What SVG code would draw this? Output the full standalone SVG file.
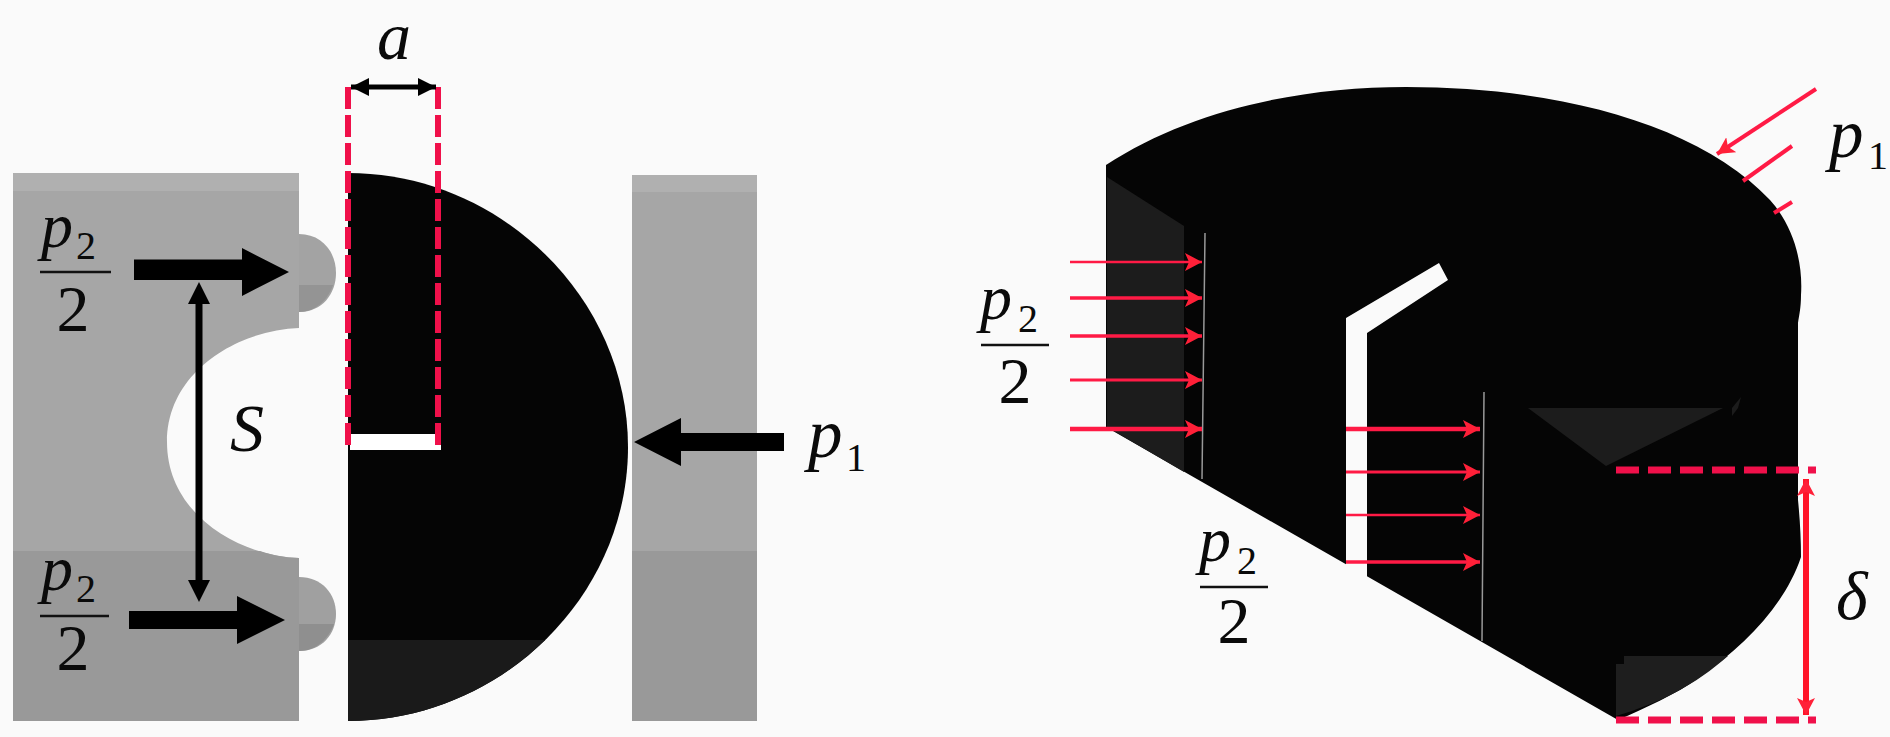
<svg xmlns="http://www.w3.org/2000/svg" width="1890" height="737" viewBox="0 0 1890 737">
<style>
.i{font-style:italic}
.p{font-size:64px;font-style:italic}.b{font-size:69px;font-style:italic}.s{font-size:40px}.t{font-size:66px;text-anchor:middle}
.rule{stroke:#111;stroke-width:2.5;fill:none}
.bk{stroke:#000;fill:none}
.rd{stroke:#ff1a45;fill:none}
.dash{stroke:#f0104a;fill:none}
</style>
<defs>
<marker id="hk" markerUnits="userSpaceOnUse" markerWidth="24" markerHeight="24" refX="18" refY="9" orient="auto-start-reverse"><path d="M0 0L18 9L0 18Z" fill="#000"/></marker>
<marker id="hr" markerUnits="userSpaceOnUse" markerWidth="20" markerHeight="20" refX="17" refY="9" orient="auto-start-reverse"><path d="M0 0L17 9L0 18L4 9Z" fill="#ff2038"/></marker>
<clipPath id="dc"><path d="M348 173C500 173 628 298 628 447C628 597 500 721 348 721Z"/></clipPath>
</defs>
<rect width="1890" height="737" fill="#fafafa"/>
<g id="left-block">
<path d="M13 173H299V328C240 330 167 370 167 442C167 515 240 556 299 558V721H13Z" fill="#a6a6a6"/>
<path d="M13 173H299V191H13Z" fill="#b0b0b0"/>
<path d="M13 551H260C272 555 285 558 299 558V721H13Z" fill="#999"/>
<path d="M299 234C322 234 336 252 336 273C336 294 322 312 299 312Z" fill="#a3a3a3"/>
<path d="M299 285H333C328 300 315 312 299 312Z" fill="#949494"/>
<path d="M299 577C322 577 336 594 336 614C336 634 322 651 299 651Z" fill="#a0a0a0"/>
<path d="M299 624H334C328 640 315 651 299 651Z" fill="#8f8f8f"/>
</g>
<g id="right-block">
<rect x="632" y="175" width="125" height="546" fill="#a6a6a6"/>
<rect x="632" y="175" width="125" height="17" fill="#b0b0b0"/>
<rect x="632" y="551" width="125" height="170" fill="#999"/>
</g>
<g id="half-disc">
<path d="M348 173C500 173 628 298 628 447C628 597 500 721 348 721Z" fill="#050505"/>
<rect x="348" y="640" width="300" height="90" fill="#1a1a1a" clip-path="url(#dc)"/>
<rect x="350" y="434" width="91" height="16" fill="#fff"/>
</g>
<g id="body-3d">
<path d="M1106 165C1190 110 1300 87 1406 87C1560 87 1700 125 1770 200C1795 228 1803 265 1801 295C1801 308 1799 316 1798 323V500C1800 520 1801 540 1801 557C1785 605 1745 645 1700 677C1675 695 1645 708 1618 720L1106 427Z" fill="#050505"/>
<path d="M1107 177L1184 226V472L1107 427Z" fill="#1c1c1c"/>
<path d="M1528 408H1723L1606 466Z" fill="#1c1c1c"/>
<path d="M1732 408L1741 397L1738 408L1732 416Z" fill="#1c1c1c"/>
<path d="M1616 664H1624V656H1728C1695 685 1660 703 1616 716Z" fill="#1e1e1e"/>
<path d="M1346 580V318L1439 263L1448 280L1367 333V580Z" fill="#fafafa"/>
<path d="M1205 233L1202 479M1484 392L1482 641" stroke="#999" stroke-width="1.500" fill="none"/>
</g>
<g id="connectors">
<path class="dash" stroke-width="6" stroke-dasharray="22 6" d="M348 87V450M438 87V450"/>
<path class="bk" stroke-width="5" d="M351 87H436" marker-start="url(#hk)" marker-end="url(#hk)"/>
<path d="M134 259.500H242V248L289 272L242 296V280H134Z" fill="#000"/>
<path d="M129 611H237V596L285 620L237 644V629H129Z" fill="#000"/>
<path d="M784 433H681V418L634 442L681 466V451H784Z" fill="#000"/>
<path class="bk" stroke-width="7" d="M199 298V590"/>
<path d="M199 282L188 304H210ZM199 602L188 580H210Z" fill="#000"/>
<g class="rd">
<path stroke-width="2.500" d="M1070 262H1202" marker-end="url(#hr)"/>
<path stroke-width="3.500" d="M1070 298H1202" marker-end="url(#hr)"/>
<path stroke-width="3.500" d="M1070 336H1202" marker-end="url(#hr)"/>
<path stroke-width="3" d="M1070 380H1202" marker-end="url(#hr)"/>
<path stroke-width="4.500" d="M1070 429H1202" marker-end="url(#hr)"/>
<path stroke-width="4.500" d="M1346 429H1480" marker-end="url(#hr)"/>
<path stroke-width="3" d="M1346 472H1480" marker-end="url(#hr)"/>
<path stroke-width="2.500" d="M1346 515H1480" marker-end="url(#hr)"/>
<path stroke-width="3.500" d="M1346 562H1480" marker-end="url(#hr)"/>
<path stroke-width="4" d="M1816 89L1717 154" marker-end="url(#hr)"/>
<path stroke-width="4" d="M1792 146L1743 181"/>
<path stroke-width="4" d="M1792 202L1774 213"/>
<path stroke="#ff1428" stroke-width="6" d="M1806 479V715" marker-start="url(#hr)" marker-end="url(#hr)"/>
</g>
<path class="dash" stroke-width="7" stroke-dasharray="23 9" d="M1616 470H1816M1616 720H1816"/>
</g>
<g id="labels" font-family="Liberation Serif, Times New Roman, serif" fill="#0a0a0a">
<text class="i" x="377" y="59" font-size="68">a</text>
<text class="i" x="230" y="451" font-size="68">S</text>
<text class="p" x="41" y="247">p</text><text class="s" x="76" y="259">2</text><path class="rule" d="M40 272H111"/><text class="t" x="73" y="331">2</text>
<text class="p" x="41" y="590">p</text><text class="s" x="76" y="602">2</text><path class="rule" d="M40 616H109"/><text class="t" x="73" y="670">2</text>
<text class="b" x="808" y="457">p</text><text class="s" x="846" y="471">1</text>
<text class="b" x="1829" y="157">p</text><text class="s" x="1868" y="169">1</text>
<text class="p" x="980" y="319">p</text><text class="s" x="1018" y="332">2</text><path class="rule" d="M981 345H1049"/><text class="t" x="1015" y="403">2</text>
<text class="p" x="1199" y="561">p</text><text class="s" x="1237" y="574">2</text><path class="rule" d="M1200 587H1268"/><text class="t" x="1234" y="643">2</text>
<text class="i" x="1836" y="619" font-size="68">δ</text>
</g>
</svg>
